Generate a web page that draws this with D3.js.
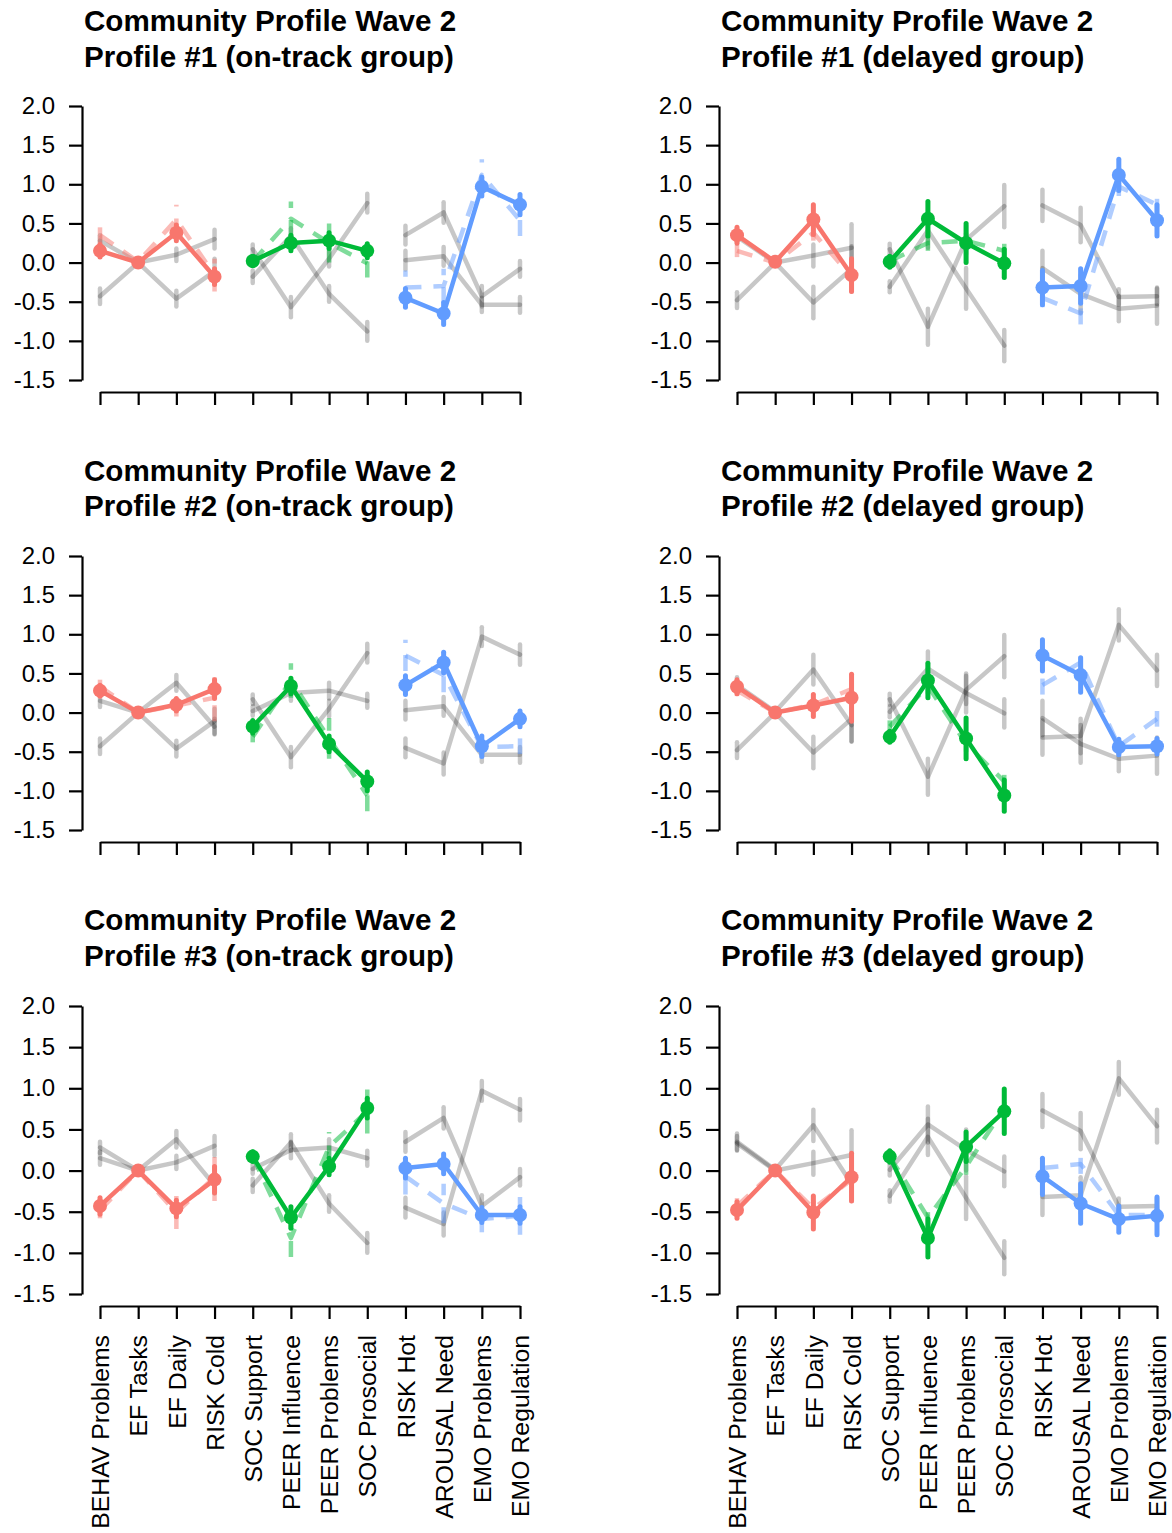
<!DOCTYPE html>
<html><head><meta charset="utf-8">
<script src="https://cdn.jsdelivr.net/npm/d3@7"></script>
<style>body{margin:0;background:#fff}</style>
</head><body>
<svg id="c" width="1172" height="1533"></svg>
<script>
const categories = ["BEHAV Problems","EF Tasks","EF Daily","RISK Cold","SOC Support","PEER Influence","PEER Problems","SOC Prosocial","RISK Hot","AROUSAL Need","EMO Problems","EMO Regulation"];
const profileLabels = ["#1","#2","#3"];
const groupLabels = ["on-track","delayed"];
const yTickValues = [-1.5,-1.0,-0.5,0.0,0.5,1.0,1.5,2.0];

const onTrackP1 = [0.15,0.00,0.38,-0.18, 0.02,0.25,0.28,0.15, -0.45,-0.65,0.97,0.74];
const onTrackP2 = [0.28,0.00,0.10,0.30, -0.18,0.34,-0.40,-0.88, 0.35,0.64,-0.43,-0.08];
const onTrackP3 = [-0.43,0.00,-0.46,-0.11, 0.17,-0.57,0.05,0.76, 0.03,0.08,-0.54,-0.54];
const delayedP1 = [0.35,0.01,0.55,-0.16, 0.01,0.56,0.25,-0.01, -0.32,-0.30,1.12,0.54];
const delayedP2 = [0.33,0.00,0.09,0.19, -0.31,0.41,-0.33,-1.06, 0.73,0.48,-0.44,-0.43];
const delayedP3 = [-0.48,0.00,-0.51,-0.08, 0.17,-0.82,0.29,0.72, -0.07,-0.40,-0.59,-0.55];

const onTrackP1Err = [0.08,0,0.10,0.10, 0.06,0.10,0.10,0.09, 0.12,0.14,0.12,0.13];
const onTrackP2Err = [0.07,0,0.08,0.12, 0.08,0.10,0.10,0.12, 0.12,0.13,0.13,0.10];
const onTrackP3Err = [0.10,0,0.10,0.16, 0.06,0.13,0.10,0.12, 0.12,0.12,0.09,0.10];
const delayedP1Err = [0.10,0,0.19,0.21, 0.07,0.22,0.25,0.18, 0.22,0.22,0.20,0.20];
const delayedP2Err = [0.09,0,0.14,0.30, 0.07,0.22,0.26,0.20, 0.20,0.22,0.10,0.10];
const delayedP3Err = [0.10,0,0.20,0.29, 0.07,0.23,0.18,0.27, 0.22,0.24,0.16,0.23];

const domainColors = ["#F8766D","#00BA38","#619CFF"];
const segments = [[0,1,2,3],[4,5,6,7],[8,9,10,11]];

const means = [[onTrackP1,onTrackP2,onTrackP3],[delayedP1,delayedP2,delayedP3]];
const errs = [[onTrackP1Err,onTrackP2Err,onTrackP3Err],[delayedP1Err,delayedP2Err,delayedP3Err]];

const FONT = "'Liberation Sans', Arial, Helvetica, sans-serif";
const cols = [{axis:82, x0:100, x1:520, title:84},{axis:719, x0:737, x1:1157, title:721}];
const rows = [
  {top:106, bot:380, axis:392, t1:31, t2:67},
  {top:556, bot:830, axis:842, t1:481, t2:516},
  {top:1006, bot:1294, axis:1306, t1:930, t2:966}
];

const svg = d3.select("#c");
const LW = 4.5;

rows.forEach((R, r) => {
  cols.forEach((C, c) => {
    const x = d3.scaleLinear().domain([0,11]).range([C.x0, C.x1]);
    const y = d3.scaleLinear().domain([-1.5,2]).range([R.bot, R.top]);
    const g = svg.append("g");

    g.append("text").attr("x", C.title).attr("y", R.t1)
      .attr("font-family", FONT).attr("font-weight","bold").attr("font-size", 29.6)
      .text("Community Profile Wave 2");
    g.append("text").attr("x", C.title).attr("y", R.t2)
      .attr("font-family", FONT).attr("font-weight","bold").attr("font-size", 29.6)
      .text(`Profile ${profileLabels[r]} (${groupLabels[c]} group)`);

    const ya = g.append("g").attr("transform", `translate(${C.axis},0)`)
      .call(d3.axisLeft(y).tickValues(yTickValues).tickFormat(d => d.toFixed(1))
        .tickSize(13).tickSizeOuter(0).tickPadding(14));
    ya.attr("font-family", FONT).attr("font-size", 24);
    ya.selectAll("path,line").attr("stroke", "#000").attr("stroke-width", 2.2);
    ya.selectAll("text").attr("fill", "#000");

    const xa = g.append("g").attr("transform", `translate(0,${R.axis})`)
      .call(d3.axisBottom(x).tickValues(d3.range(12)).tickSize(13).tickSizeOuter(0)
        .tickFormat(i => r === 2 ? categories[i] : ""));
    xa.attr("font-family", FONT).attr("font-size", 24.8);
    xa.selectAll("path,line").attr("stroke", "#000").attr("stroke-width", 2.2);
    xa.selectAll("text").attr("fill", "#000")
      .attr("transform", "rotate(-90)").attr("text-anchor", "end")
      .attr("x", -29).attr("y", 0).attr("dy", "0.35em");

    const line = (vals) => d3.line().x(i => x(i)).y(i => y(vals[i]));

    const drawSeries = (vals, er, style) => {
      segments.forEach((seg, k) => {
        const col = style === "gray" ? "#000" : domainColors[k];
        const op = style === "gray" ? 0.22 : (style === "dash" ? 0.5 : 1);
        const p = g.append("path").attr("d", line(vals)(seg))
          .attr("fill", "none").attr("stroke", col).attr("stroke-opacity", op)
          .attr("stroke-width", LW).attr("stroke-linejoin", "round")
          .attr("stroke-linecap", style === "dash" ? "butt" : "round");
        if (style === "dash") p.attr("stroke-dasharray", "16,12");
        seg.forEach(i => {
          if (er[i] <= 0) return;
          const l = g.append("line").attr("x1", x(i)).attr("x2", x(i))
            .attr("y1", y(vals[i] - er[i])).attr("y2", y(vals[i] + er[i]))
            .attr("stroke", col).attr("stroke-opacity", op).attr("stroke-width", style === "solid" ? 5 : LW)
            .attr("stroke-linecap", style === "dash" ? "butt" : "round");
          if (style === "dash") l.attr("stroke-dasharray", "16,12");
        });
        if (style === "solid") {
          seg.forEach(i => {
            g.append("circle").attr("cx", x(i)).attr("cy", y(vals[i])).attr("r", 7)
              .attr("fill", col);
          });
        }
      });
    };

    [0,1,2].filter(q => q !== r).forEach(q => drawSeries(means[c][q], errs[c][q], "gray"));
    drawSeries(means[1-c][r], errs[1-c][r], "dash");
    drawSeries(means[c][r], errs[c][r], "solid");
  });
});
</script>
</body></html>
